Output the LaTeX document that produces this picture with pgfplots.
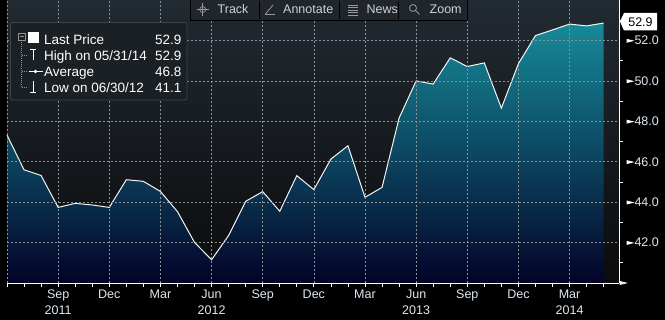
\documentclass[border=0pt]{standalone}
\usepackage{pgfplots}
\pgfplotsset{compat=1.18}
\usepackage{pgfplotstable}
\usepackage{fontspec}
\setmainfont{Liberation Sans}

\definecolor{bgtop}{RGB}{34,42,50}
\definecolor{bgbot}{RGB}{10,11,12}
\definecolor{filltop}{RGB}{22,138,153}
\definecolor{fillmid}{RGB}{10,68,98}
\definecolor{fillbot}{RGB}{3,3,40}
\definecolor{gridc}{RGB}{140,145,150}
\definecolor{labc}{RGB}{222,232,242}
\definecolor{legbg}{RGB}{27,32,37}
\definecolor{legbd}{RGB}{62,68,74}
\definecolor{toolbg}{RGB}{32,38,44}
\definecolor{tooltx}{RGB}{205,210,215}

% month index: 0 = Jun 2011 ... 35 = May 2014
\pgfplotstableread{
m v
0 47.32
1 45.60
2 45.32
3 43.74
4 43.94
5 43.86
6 43.74
7 45.11
8 45.03
9 44.53
10 43.53
11 42.01
12 41.15
13 42.35
14 44.04
15 44.52
16 43.55
17 45.31
18 44.62
19 46.13
20 46.79
21 44.24
22 44.73
23 48.16
24 50.00
25 49.84
26 51.14
27 50.71
28 50.89
29 48.65
30 50.85
31 52.24
32 52.52
33 52.81
34 52.72
35 52.86
}\pricedata

% same series closed down to the axis floor for the area fill
\pgfplotstableread{
m v
0 40
0 47.32
1 45.60
2 45.32
3 43.74
4 43.94
5 43.86
6 43.74
7 45.11
8 45.03
9 44.53
10 43.53
11 42.01
12 41.15
13 42.35
14 44.04
15 44.52
16 43.55
17 45.31
18 44.62
19 46.13
20 46.79
21 44.24
22 44.73
23 48.16
24 50.00
25 49.84
26 51.14
27 50.71
28 50.89
29 48.65
30 50.85
31 52.24
32 52.52
33 52.81
34 52.72
35 52.86
35 40
}\areadata

\newcommand{\ytri}{\tikz[baseline=-0.6ex]\fill[white] (0,2pt)--(8pt,0)--(0,-2pt)--cycle;}
\newcommand{\fs}{\fontsize{12.5}{14}\selectfont}
\newcommand{\fl}{\fontsize{13.5}{15}\selectfont}

\begin{document}
\begin{tikzpicture}
\fill[black] (0,0) rectangle (665pt,320pt);
\begin{axis}[
  at={(7pt,37pt)}, anchor=south west,
  width=612pt, height=283pt, scale only axis,
  xmin=0, xmax=35.9, ymin=40, ymax=54,
  axis x line*=bottom, axis y line*=right,
  axis line style={white, line width=0.8pt},
  axis background/.style={top color=bgtop, bottom color=bgbot},
  xtick={3,6,...,33},
  xticklabels={Sep,Dec,Mar,Jun,Sep,Dec,Mar,Jun,Sep,Dec,Mar},
  minor xtick={0,1,...,35},
  ytick={42,44,...,52},
  minor ytick={41,43,...,53},
  extra x ticks={0}, extra x tick labels={},
  tick align=outside,
  major tick length=4pt, minor tick length=4pt,
  tick style={white, line width=0.8pt},
  major y tick style={draw=none},
  grid=major,
  major grid style={gridc, dash pattern=on 2pt off 2pt, line width=0.6pt},
  yticklabel pos=right,
  yticklabel={\ytri\pgfmathprintnumber[fixed,fixed zerofill,precision=1]{\tick}},
  ticklabel style={font=\fs, text=labc},
  xticklabel style={yshift=1pt},
  /pgf/number format/assume math mode=true,
  axis on top,
  clip=false,
]
\addplot[draw=none, top color=filltop, middle color=fillmid, bottom color=fillbot]
  table[x=m, y=v] {\areadata};
\addplot[white!92!gray, line width=1pt, mark=none] table[x=m, y=v] {\pricedata};

% year labels and separators
\node[font=\fs, text=labc] at (axis cs:3,40) [yshift=-27pt] {2011};
\node[font=\fs, text=labc] at (axis cs:12,40) [yshift=-27pt] {2012};
\node[font=\fs, text=labc] at (axis cs:24,40) [yshift=-27pt] {2013};
\node[font=\fs, text=labc] at (axis cs:33,40) [yshift=-27pt] {2014};
\draw[gray, line width=0.8pt] (axis cs:6,40) ++(0,-19pt) -- ++(0,-16pt);
\draw[gray, line width=0.8pt] (axis cs:18,40) ++(0,-19pt) -- ++(0,-16pt);
\draw[gray, line width=0.8pt] (axis cs:30,40) ++(0,-19pt) -- ++(0,-16pt);
\end{axis}

\begin{scope}[x=1pt, y=-1pt, yshift=320pt]
% toolbar
\fill[toolbg] (190,0) rectangle (467,20);
\draw[black, line width=1pt] (190,20.5) -- (467.5,20.5);
\draw[black, line width=1pt] (190,0) -- (190,20.5);
\draw[black, line width=1pt] (467.5,0) -- (467.5,20.5);
\foreach \sx in {259.5,339.5,398.5} {\draw[black, line width=1pt] (\sx,1) -- (\sx,19);}
% track icon
\draw[gray!80, line width=0.7pt] (202.7,9.5) circle (3);
\draw[gray!80, line width=0.7pt] (196.5,9.5) -- (209,9.5) (202.7,3.3) -- (202.7,15.7);
\node[font=\fs, text=tooltx, anchor=base west, inner sep=0pt] at (217.5,14) {Track};
% annotate icon
\draw[gray!80, line width=0.8pt] (265,14.5) -- (275,14.5) (265.5,14) -- (273,5);
\node[font=\fs, text=tooltx, anchor=base west, inner sep=0pt] at (283,14) {Annotate};
% news icon
\foreach \ly in {5,7.5,10,12.5,15} {\draw[gray!80, line width=0.9pt] (348,\ly) -- (358,\ly);}
\node[font=\fs, text=tooltx, anchor=base west, inner sep=0pt] at (366.5,14) {News};
% zoom icon
\draw[gray!80, line width=0.8pt] (413,8) circle (3.5) (415.5,10.5) -- (419.5,14.5);
\node[font=\fs, text=tooltx, anchor=base west, inner sep=0pt] at (429.5,14) {Zoom};

% legend box
\fill[legbg, draw=legbd, line width=0.8pt, rounded corners=2pt] (10.5,22.5) rectangle (187,100);
\draw[gridc, dash pattern=on 1pt off 1pt, line width=0.6pt] (21.7,40.5) -- (21.7,87.5);
\foreach \ry in {55.5,71.5,87.5} {\draw[gridc, dash pattern=on 1pt off 1pt, line width=0.6pt] (21.7,\ry) -- (27,\ry);}
\fill[legbg] (18.2,33.2) rectangle (25.2,40.2);
\draw[gridc, line width=0.6pt] (18.2,33.2) rectangle (25.2,40.2);
\draw[gridc, line width=0.6pt] (19.7,36.7) -- (23.7,36.7);
\fill[white] (28.3,32.5) rectangle (39.3,43.5);
\draw[white, line width=0.9pt] (30,49.5) -- (36,49.5) (33,49.5) -- (33,60);
\draw[white, line width=0.9pt] (28.5,71.5) -- (42.5,71.5);
\fill[white] (35.5,71.5) circle (1.9);
\draw[white, line width=0.9pt] (30,92) -- (36,92) (33,81.5) -- (33,92);
\node[font=\fl, text=white, anchor=base west, inner sep=0pt] at (44,44.5) {Last Price};
\node[font=\fl, text=white, anchor=base east, inner sep=0pt] at (181.5,44.5) {52.9};
\node[font=\fl, text=white, anchor=base west, inner sep=0pt] at (44,60.5) {High on 05/31/14};
\node[font=\fl, text=white, anchor=base east, inner sep=0pt] at (181.5,60.5) {52.9};
\node[font=\fl, text=white, anchor=base west, inner sep=0pt] at (44,76.5) {Average};
\node[font=\fl, text=white, anchor=base east, inner sep=0pt] at (181.5,76.5) {46.8};
\node[font=\fl, text=white, anchor=base west, inner sep=0pt] at (44,92.5) {Low on 06/30/12};
\node[font=\fl, text=white, anchor=base east, inner sep=0pt] at (181.5,92.5) {41.1};

% last price tag
\fill[white] (620,21.5) -- (624,13) -- (657,13) -- (657,30.5) -- (624,30.5) -- cycle;
\node[font=\fs, text=black, anchor=base, inner sep=0pt] at (640.5,26.5) {52.9};
% arrow marker at 40.0
\fill[white] (619.5,281) -- (628,283) -- (619.5,285) -- cycle;
\end{scope}

\pgfresetboundingbox
\useasboundingbox (0,0) rectangle (665pt,320pt);
\end{tikzpicture}
\end{document}
